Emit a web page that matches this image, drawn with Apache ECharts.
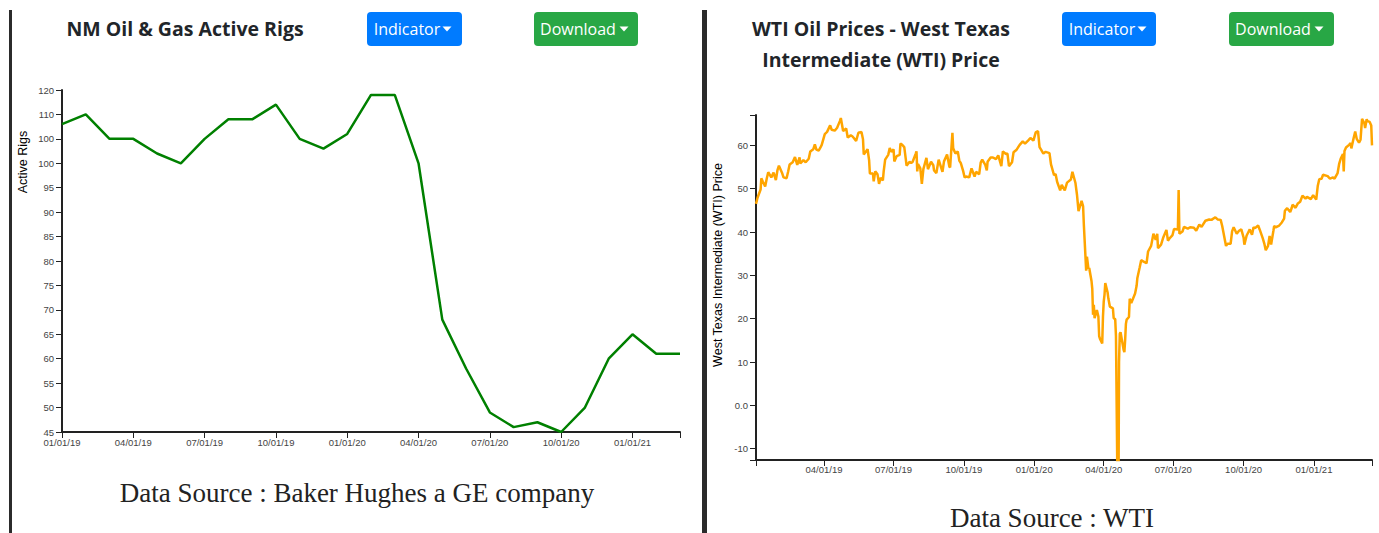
<!DOCTYPE html>
<html><head><meta charset="utf-8">
<script src="https://cdn.jsdelivr.net/npm/echarts@6/dist/echarts.min.js"></script>
<style>html,body{margin:0;padding:0;background:#fff;overflow:hidden}#c{width:1379px;height:533px}</style>
</head><body><div id="c"></div>
<script>
// ---------- DATA ----------
const rigMonths = ['01/01/19','02/01/19','03/01/19','04/01/19','05/01/19','06/01/19','07/01/19','08/01/19','09/01/19','10/01/19','11/01/19','12/01/19',
  '01/01/20','02/01/20','03/01/20','04/01/20','05/01/20','06/01/20','07/01/20','08/01/20','09/01/20','10/01/20','11/01/20','12/01/20',
  '01/01/21','02/01/21','03/01/21'];
const rigCounts = [108,110,105,105,102,100,105,109,109,112,105,103,106,114,114,100,68,58,49,46,47,45,50,60,65,61,61];
const rigTickValues = [45,50,55,60,65,70,75,80,85,90,95,100,105,110,115];
const rigTickLabels = ['45','50','55','60','65','70','75','80','85','90','95','100','100','110','120'];

const wtiPrices = [
 ['2019-01-02',46.5],['2019-01-04',47.9],['2019-01-08',49.8],['2019-01-09',52.4],['2019-01-11',51.6],['2019-01-14',50.5],['2019-01-16',52.3],['2019-01-18',53.8],
 ['2019-01-22',52.6],['2019-01-25',53.7],['2019-01-28',52.0],['2019-01-30',54.2],['2019-02-01',55.3],['2019-02-05',53.7],['2019-02-07',52.6],['2019-02-11',52.4],
 ['2019-02-13',53.9],['2019-02-15',55.6],['2019-02-19',56.1],['2019-02-22',57.3],['2019-02-25',55.5],['2019-02-28',57.2],['2019-03-01',55.8],['2019-03-05',56.6],
 ['2019-03-08',56.1],['2019-03-12',56.9],['2019-03-14',58.6],['2019-03-18',59.1],['2019-03-20',60.2],['2019-03-22',59.0],['2019-03-25',58.8],['2019-03-27',59.4],
 ['2019-03-29',60.1],['2019-04-02',62.6],['2019-04-05',63.1],['2019-04-09',64.6],['2019-04-11',63.6],['2019-04-15',63.4],['2019-04-18',64.0],['2019-04-22',65.7],
 ['2019-04-23',66.3],['2019-04-26',63.3],['2019-04-30',63.9],['2019-05-02',61.8],['2019-05-06',62.3],['2019-05-08',62.1],['2019-05-10',61.7],['2019-05-13',61.0],
 ['2019-05-16',62.9],['2019-05-20',63.1],['2019-05-22',61.4],['2019-05-23',57.9],['2019-05-28',59.1],['2019-05-30',56.6],['2019-05-31',53.5],['2019-06-04',53.5],
 ['2019-06-05',51.7],['2019-06-07',54.0],['2019-06-10',53.3],['2019-06-12',51.1],['2019-06-14',52.5],['2019-06-17',51.9],['2019-06-18',53.9],['2019-06-20',56.7],
 ['2019-06-24',57.8],['2019-06-26',59.4],['2019-06-28',58.5],['2019-07-01',59.1],['2019-07-02',56.3],['2019-07-05',57.5],['2019-07-09',57.8],['2019-07-10',60.4],
 ['2019-07-12',60.2],['2019-07-15',59.6],['2019-07-17',56.8],['2019-07-18',55.3],['2019-07-22',56.2],['2019-07-24',55.9],['2019-07-26',56.2],['2019-07-30',58.1],
 ['2019-07-31',58.6],['2019-08-01',54.0],['2019-08-02',55.7],['2019-08-05',54.7],['2019-08-07',51.1],['2019-08-09',54.5],['2019-08-13',57.1],['2019-08-15',54.5],
 ['2019-08-19',56.2],['2019-08-22',55.4],['2019-08-23',54.2],['2019-08-26',53.6],['2019-08-29',56.7],['2019-09-03',53.9],['2019-09-05',56.3],['2019-09-09',57.9],
 ['2019-09-12',55.1],['2019-09-13',54.9],['2019-09-16',62.9],['2019-09-17',59.3],['2019-09-20',58.1],['2019-09-23',58.6],['2019-09-25',56.5],['2019-09-27',55.9],
 ['2019-09-30',54.1],['2019-10-02',52.6],['2019-10-04',52.8],['2019-10-08',52.6],['2019-10-11',54.7],['2019-10-15',52.8],['2019-10-17',53.9],['2019-10-21',53.3],
 ['2019-10-23',56.0],['2019-10-25',56.7],['2019-10-29',55.5],['2019-10-31',54.2],['2019-11-01',56.2],['2019-11-05',57.2],['2019-11-08',57.2],['2019-11-12',56.8],
 ['2019-11-15',57.7],['2019-11-19',55.2],['2019-11-21',58.6],['2019-11-25',58.0],['2019-11-27',58.1],['2019-11-29',55.2],['2019-12-03',56.1],['2019-12-05',58.4],
 ['2019-12-09',59.0],['2019-12-13',60.1],['2019-12-17',60.9],['2019-12-20',60.4],['2019-12-24',61.1],['2019-12-27',61.7],['2019-12-31',61.1],
 ['2020-01-03',63.0],['2020-01-06',63.3],['2020-01-08',59.6],['2020-01-10',59.0],['2020-01-13',58.1],['2020-01-16',58.5],['2020-01-21',58.2],['2020-01-23',55.6],
 ['2020-01-27',53.1],['2020-01-29',53.4],['2020-01-31',51.6],['2020-02-04',49.6],['2020-02-06',50.9],['2020-02-10',49.6],['2020-02-13',51.4],['2020-02-18',52.1],
 ['2020-02-20',53.9],['2020-02-24',51.3],['2020-02-26',48.6],['2020-02-28',44.8],['2020-03-03',47.2],['2020-03-05',45.9],['2020-03-06',41.6],['2020-03-09',31.1],
 ['2020-03-10',34.3],['2020-03-12',31.5],['2020-03-13',31.7],['2020-03-16',28.7],['2020-03-17',26.9],['2020-03-18',20.9],['2020-03-19',23.2],['2020-03-20',20.1],
 ['2020-03-23',22.0],['2020-03-25',20.5],['2020-03-26',16.0],['2020-03-27',15.4],['2020-03-30',14.3],['2020-03-31',20.5],['2020-04-01',24.0],['2020-04-02',25.5],
 ['2020-04-03',28.2],['2020-04-06',26.1],['2020-04-07',24.7],['2020-04-09',22.8],['2020-04-13',22.4],['2020-04-14',20.1],['2020-04-16',19.9],['2020-04-17',16.0],
 ['2020-04-20',-36.98],['2020-04-21',10.0],['2020-04-22',16.5],['2020-04-23',16.9],['2020-04-27',12.8],['2020-04-28',12.3],['2020-04-29',15.1],['2020-04-30',18.8],
 ['2020-05-01',19.8],['2020-05-04',20.4],['2020-05-05',24.6],['2020-05-07',23.6],['2020-05-12',25.8],['2020-05-14',27.6],['2020-05-15',29.4],['2020-05-18',31.8],
 ['2020-05-20',33.5],['2020-05-22',33.3],['2020-05-27',32.8],['2020-05-29',35.5],['2020-06-02',36.8],['2020-06-05',39.6],['2020-06-08',38.2],['2020-06-10',39.6],
 ['2020-06-11',36.3],['2020-06-15',37.1],['2020-06-18',38.8],['2020-06-22',40.5],['2020-06-24',38.0],['2020-06-26',38.5],['2020-06-30',39.3],['2020-07-02',40.7],
 ['2020-07-07',40.6],['2020-07-08',49.7],['2020-07-09',39.6],['2020-07-13',40.1],['2020-07-15',41.2],['2020-07-20',40.8],['2020-07-23',41.1],['2020-07-28',41.0],
 ['2020-07-31',40.3],['2020-08-04',41.7],['2020-08-07',41.2],['2020-08-12',42.6],['2020-08-17',42.9],['2020-08-20',42.8],['2020-08-25',43.4],['2020-08-28',42.9],
 ['2020-09-01',42.8],['2020-09-03',41.4],['2020-09-08',36.8],['2020-09-10',37.3],['2020-09-14',37.3],['2020-09-16',40.2],['2020-09-18',41.1],['2020-09-22',39.6],
 ['2020-09-25',40.3],['2020-09-28',40.6],['2020-10-01',38.7],['2020-10-02',37.1],['2020-10-05',39.2],['2020-10-07',39.9],['2020-10-09',40.6],['2020-10-12',39.4],
 ['2020-10-14',41.1],['2020-10-16',40.9],['2020-10-20',41.5],['2020-10-22',40.6],['2020-10-26',38.6],['2020-10-28',37.4],['2020-10-30',35.8],['2020-11-02',36.8],
 ['2020-11-04',39.1],['2020-11-06',37.1],['2020-11-09',40.3],['2020-11-10',41.4],['2020-11-12',41.1],['2020-11-16',41.4],['2020-11-18',41.8],['2020-11-20',42.2],
 ['2020-11-23',43.1],['2020-11-24',44.9],['2020-11-27',45.5],['2020-12-01',44.6],['2020-12-03',45.6],['2020-12-04',46.3],['2020-12-08',45.6],['2020-12-11',46.6],
 ['2020-12-14',47.0],['2020-12-17',48.4],['2020-12-21',47.7],['2020-12-23',48.1],['2020-12-28',47.6],['2020-12-31',48.5],
 ['2021-01-04',47.5],['2021-01-06',50.6],['2021-01-08',52.2],['2021-01-11',52.3],['2021-01-13',53.2],['2021-01-19',52.9],['2021-01-22',52.3],['2021-01-26',52.6],
 ['2021-01-28',52.3],['2021-02-01',53.6],['2021-02-03',55.7],['2021-02-05',56.9],['2021-02-08',58.0],['2021-02-09',54.0],['2021-02-10',58.7],['2021-02-12',59.5],
 ['2021-02-16',60.1],['2021-02-18',60.5],['2021-02-19',59.3],['2021-02-22',61.7],['2021-02-24',63.2],['2021-02-26',61.5],['2021-03-01',60.6],['2021-03-03',61.3],
 ['2021-03-04',63.8],['2021-03-05',66.1],['2021-03-08',65.1],['2021-03-09',64.0],['2021-03-11',66.0],['2021-03-12',65.6],['2021-03-15',65.4],['2021-03-17',64.6],
 ['2021-03-18',60.0]
];
const wtiTickDates = ['2019-04-01','2019-07-01','2019-10-01','2020-01-01','2020-04-01','2020-07-01','2020-10-01','2021-01-01'];
const wtiTickValues = [-10,0,10,20,30,40,50,60];
const wtiTickLabels = ['-10','0.0','10','20','30','40','50','60'];
const wtiRange = ['2019-01-02','2021-03-18'];
const wtiYRange = [-12.6, 67];

// ---------- HELPERS ----------
function ts(s){const p=s.split('-').map(Number);return Date.UTC(p[0],p[1]-1,p[2]);}
function mdy(t){const d=new Date(t);const z=n=>(n<10?'0':'')+n;return z(d.getUTCMonth()+1)+'/'+z(d.getUTCDate())+'/'+z(d.getUTCFullYear()%100);}
const tickFont = {fontFamily:'Liberation Sans, Arial, sans-serif', fontSize:9.5, color:'#444'};
const axisLineStyle = {show:true, onZero:false, lineStyle:{color:'#222', width:2}};
const tickStyle = {color:'#222', width:1};

const chart = echarts.init(document.getElementById('c'), null, {renderer:'svg'});

function button(x, y, w, h, color, label, textCx, caretCx){
  return [
    {type:'rect', x:x, y:y, shape:{width:w, height:h, r:4}, style:{fill:color}},
    {type:'text', x:textCx, y:y+h/2, style:{text:label, fill:'#fff', fontSize:16, fontFamily:'Open Sans, Noto Sans, sans-serif', align:'center', verticalAlign:'middle'}},
    {type:'polygon', shape:{points:[[caretCx-4.5,y+h/2-2.5],[caretCx+4.5,y+h/2-2.5],[caretCx,y+h/2+2.5]]}, style:{fill:'#fff'}}
  ];
}
const titleStyle = {fill:'#212529', fontSize:19.5, fontWeight:'bold', fontFamily:'Open Sans, Noto Sans, sans-serif', align:'center', verticalAlign:'middle'};

const option = {
  animation:false,
  backgroundColor:'#fff',
  grid:[
    {left:62, top:90, width:618, height:342, containLabel:false},
    {left:756, top:115, width:616, height:345, containLabel:false}
  ],
  xAxis:[
    {gridIndex:0, type:'category', data:rigMonths, boundaryGap:false,
     axisLine:axisLineStyle,
     axisTick:{show:true, length:6, lineStyle:tickStyle, interval:(i)=> i%3===0 || i===rigMonths.length-1},
     axisLabel:Object.assign({interval:(i)=> i%3===0, margin:5}, tickFont),
     splitLine:{show:false}},
    {gridIndex:1, type:'value', min:ts(wtiRange[0]), max:ts(wtiRange[1]),
     axisLine:axisLineStyle,
     axisTick:{show:true, length:6, lineStyle:tickStyle, customValues:[ts(wtiRange[0])].concat(wtiTickDates.map(ts)).concat([ts(wtiRange[1])])},
     axisLabel:Object.assign({customValues:wtiTickDates.map(ts), formatter:(v)=>mdy(v), margin:4, hideOverlap:false, showMinLabel:true, showMaxLabel:true}, tickFont),
     splitLine:{show:false}}
  ],
  yAxis:[
    {gridIndex:0, type:'value', min:45, max:115, interval:5,
     axisLine:axisLineStyle,
     axisTick:{show:true, length:6, lineStyle:tickStyle},
     axisLabel:Object.assign({margin:8, formatter:(v)=>{const i=rigTickValues.indexOf(v);return i>=0?rigTickLabels[i]:'';}}, tickFont),
     splitLine:{show:false}},
    {gridIndex:1, type:'value', min:wtiYRange[0], max:wtiYRange[1],
     axisLine:axisLineStyle,
     axisTick:{show:true, length:6, lineStyle:tickStyle, customValues:[wtiYRange[0]].concat(wtiTickValues).concat([wtiYRange[1]])},
     axisLabel:Object.assign({margin:8, customValues:wtiTickValues, formatter:(v)=>{const i=wtiTickValues.indexOf(v);return i>=0?wtiTickLabels[i]:'';}}, tickFont),
     splitLine:{show:false}}
  ],
  series:[
    {type:'line', xAxisIndex:0, yAxisIndex:0, data:rigCounts, showSymbol:false, symbol:'none',
     lineStyle:{color:'#008000', width:2.5}, itemStyle:{color:'#008000'}},
    {type:'line', xAxisIndex:1, yAxisIndex:1, data:wtiPrices.map(p=>[ts(p[0]),p[1]]), showSymbol:false, symbol:'none', clip:true,
     lineStyle:{color:'#FFA500', width:2.5}, itemStyle:{color:'#FFA500'}}
  ],
  graphic:{elements:[
    {type:'rect', shape:{x:9, y:10, width:3, height:523}, style:{fill:'#2b2b2b'}},
    {type:'rect', shape:{x:702, y:10, width:5, height:523}, style:{fill:'#2b2b2b'}},
    {type:'text', x:185, y:28, style:Object.assign({text:'NM Oil & Gas Active Rigs'}, titleStyle)},
    {type:'text', x:881, y:28, style:Object.assign({text:'WTI Oil Prices - West Texas'}, titleStyle)},
    {type:'text', x:881, y:59, style:Object.assign({text:'Intermediate (WTI) Price'}, titleStyle)},
    ...button(367,12,95,34,'#007bff','Indicator',407,447),
    ...button(534,12,104,34,'#28a745','Download',578,624),
    ...button(1062,12,94,34,'#007bff','Indicator',1102,1142),
    ...button(1229,12,105,34,'#28a745','Download',1273,1319),
    {type:'text', x:23, y:162, rotation:Math.PI/2, style:{text:'Active Rigs', fill:'#000', fontSize:12.5, fontFamily:'Liberation Sans, Arial, sans-serif', align:'center', verticalAlign:'middle'}},
    {type:'text', x:718, y:265, rotation:Math.PI/2, style:{text:'West Texas Intermediate (WTI) Price', fill:'#000', fontSize:12.5, fontFamily:'Liberation Sans, Arial, sans-serif', align:'center', verticalAlign:'middle'}},
    {type:'text', x:357, y:493, style:{text:'Data Source : Baker Hughes a GE company', fill:'#222', fontSize:27, fontFamily:'Liberation Serif, Times New Roman, serif', align:'center', verticalAlign:'middle'}},
    {type:'text', x:1052, y:518, style:{text:'Data Source : WTI', fill:'#222', fontSize:27, fontFamily:'Liberation Serif, Times New Roman, serif', align:'center', verticalAlign:'middle'}}
  ]}
};
chart.setOption(option);
</script>
</body></html>
